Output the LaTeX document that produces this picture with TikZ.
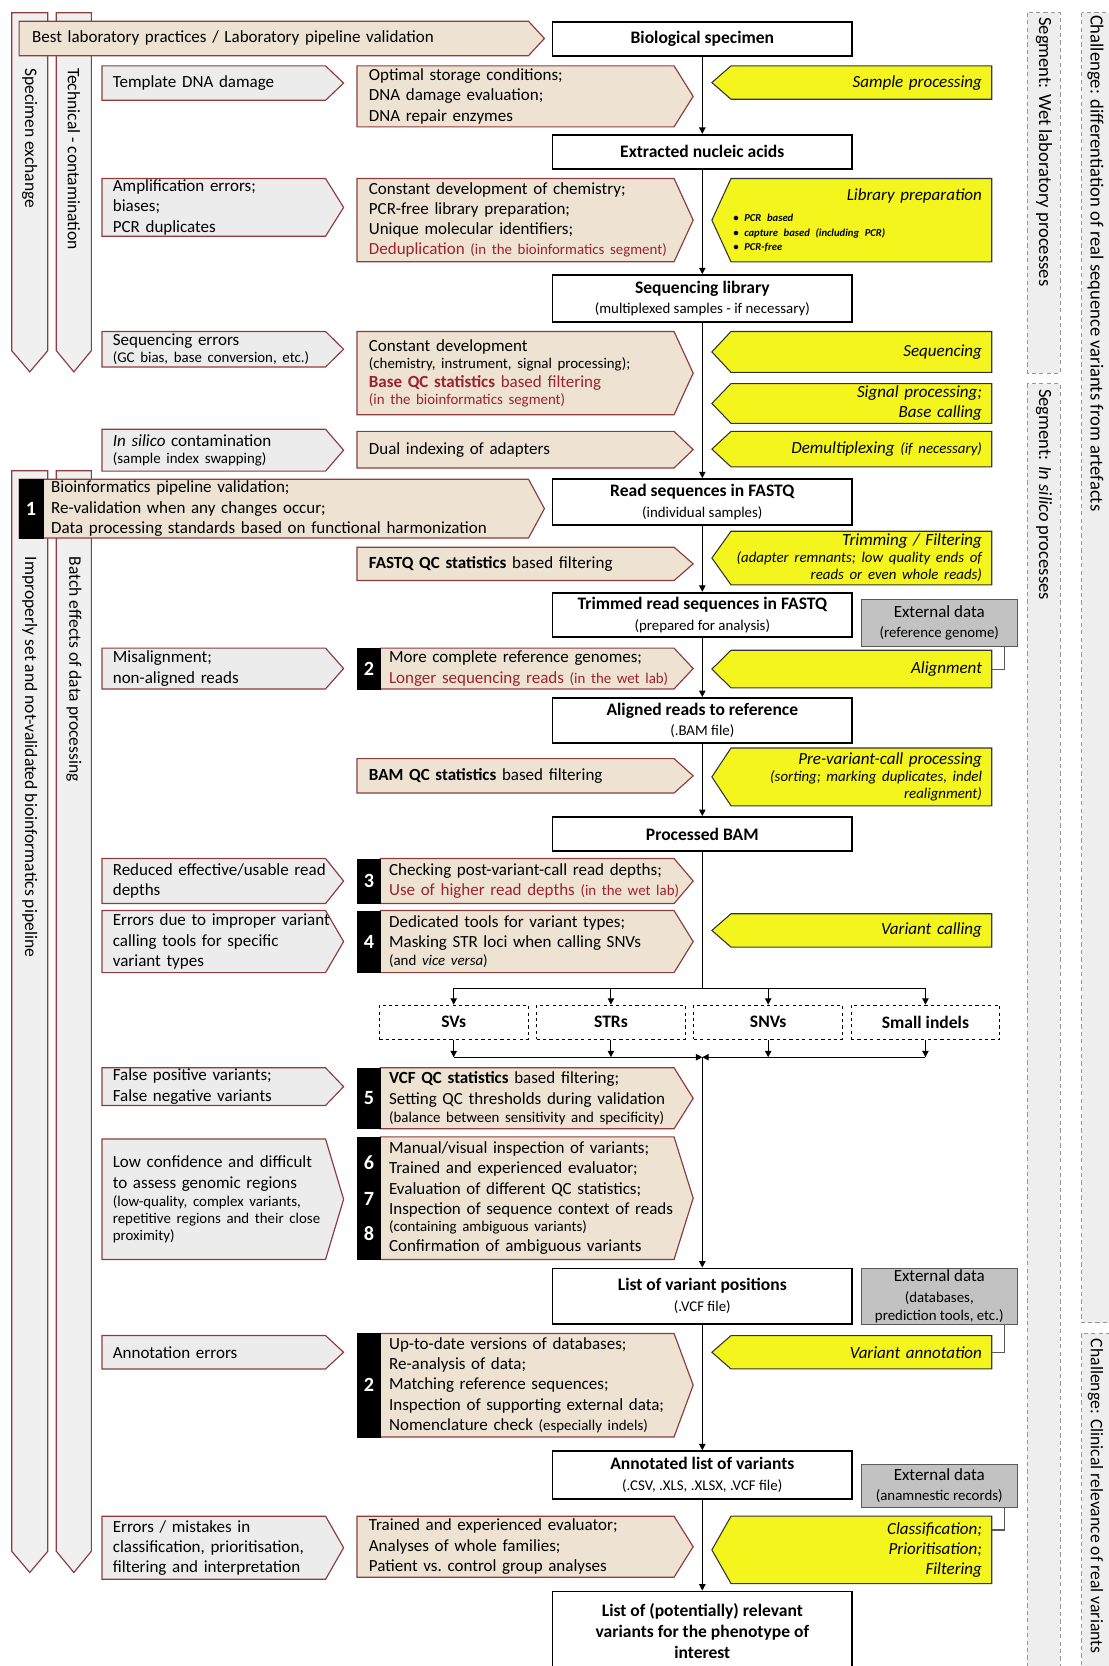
\documentclass[tikz,border=0pt]{standalone}
\usepackage{fontspec}
\setmainfont{Carlito}
\usetikzlibrary{arrows.meta,backgrounds}

\definecolor{probgray}{RGB}{236,236,236}
\definecolor{bargray}{RGB}{240,240,240}
\definecolor{segfill}{RGB}{238,238,238}
\definecolor{segline}{RGB}{150,150,150}
\definecolor{edgered}{RGB}{140,62,62}
\definecolor{soltan}{RGB}{238,226,210}
\definecolor{dred}{RGB}{155,35,45}
\definecolor{stageyel}{RGB}{245,245,30}
\definecolor{extfill}{RGB}{194,194,194}
\definecolor{extline}{RGB}{90,90,90}

\newcommand{\txtfont}{\fontsize{16}{19}\selectfont}
\newcommand{\subtxt}{\fontsize{14}{16}\selectfont\mdseries}
\newcommand{\subit}{\subtxt\itshape}
\newcommand{\ttlfont}{\fontsize{16.5}{19.5}\selectfont\bfseries}
\newcommand{\bultxt}{\fontsize{10}{13.5}\selectfont\bfseries\itshape}

\begin{document}
\begin{tikzpicture}[x=1pt,y=-1pt,>={Triangle[length=6pt,width=6pt]}]
    \tikzstyle{prob} = [rectangle,anchor=north west,inner xsep=10pt,inner ysep=0pt,text width=207pt,align=left,font=\txtfont];
    \tikzstyle{sol} = [rectangle,anchor=north west,inner xsep=11pt,inner ysep=0pt,text width=294pt,align=left,font=\txtfont];
    \tikzstyle{solnum} = [sol,inner xsep=8pt,text width=278pt];
    \tikzstyle{numstrip} = [rectangle,anchor=north west,fill=black,draw=black,text=white,minimum width=22pt,inner sep=0pt,align=center,font=\fontsize{19}{33}\selectfont\bfseries];
    \tikzstyle{stage} = [rectangle,anchor=north west,inner xsep=9pt,inner ysep=0pt,text width=245pt,align=right,font=\txtfont\itshape];
    \tikzstyle{pipe} = [rectangle,anchor=north,draw=black,line width=1.8pt,fill=white,minimum width=282pt,inner sep=0pt,align=center,font=\ttlfont];
    \tikzstyle{ext} = [rectangle,anchor=north west,draw=extline,line width=1pt,fill=extfill,minimum width=147pt,inner sep=0pt,align=center,font=\txtfont];
    \tikzstyle{vtype} = [rectangle,draw=black,dashed,line width=0.9pt,minimum width=140pt,minimum height=32pt,font=\ttlfont];
    \tikzstyle{barnode} = [rectangle,anchor=north west,inner ysep=0pt,align=left,font=\txtfont];
    \tikzstyle{sidelabel} = [rotate=-90,anchor=west,inner sep=0pt,font=\fontsize{16.5}{19}\selectfont];
    \tikzstyle{seglabel} = [sidelabel,font=\fontsize{17.5}{20}\selectfont];
    \tikzstyle{flow} = [->,black,line width=1pt];
    \tikzstyle{extlink} = [extline,line width=1pt];
    \tikzstyle{probshape} = [fill=probgray,draw=edgered,line width=1.1pt];
    \tikzstyle{solshape} = [fill=soltan,draw=edgered,line width=1.1pt];
    \tikzstyle{stageshape} = [fill=stageyel,draw=black!80,line width=1pt];
    \tikzstyle{barshape} = [fill=bargray,draw=edgered,line width=1.1pt];
    \tikzstyle{segshape} = [fill=segfill,draw=segline,line width=0.8pt,dash pattern=on 4pt off 3pt];

    \useasboundingbox (0,0) rectangle (1043,1568);

    % main pipeline
    \node[pipe,name=bio,minimum height=32pt] at (661,20) {Biological specimen};
    \node[pipe,name=nucl,minimum height=32pt] at (661,126) {Extracted nucleic acids};
    \node[pipe,name=seqlib,minimum height=44pt] at (661,258) {Sequencing library\\{\subtxt (multiplexed samples - if necessary)}};
    \node[pipe,name=fastq,minimum height=43pt] at (661,450) {Read sequences in FASTQ\\{\subtxt (individual samples)}};
    \node[pipe,name=trimmed,minimum height=42pt] at (661,557) {Trimmed read sequences in FASTQ\\{\subtxt (prepared for analysis)}};
    \node[pipe,name=aligned,minimum height=42pt] at (661,656) {Aligned reads to reference\\{\subtxt (.BAM file)}};
    \node[pipe,name=procbam,minimum height=32pt] at (661,768) {Processed BAM};
    \node[pipe,name=vcf,minimum height=52pt] at (661,1193) {List of variant positions\\{\subtxt (.VCF file)}};
    \node[pipe,name=annlist,minimum height=45pt] at (661,1365) {Annotated list of variants\\{\subtxt (.CSV, .XLS, .XLSX, .VCF file)}};
    \node[pipe,name=relevant,minimum height=74pt] at (661,1497) {List of (potentially) relevant\\variants for the phenotype of\\interest};

    \node[vtype,name=svs] at (427,962) {SVs};
    \node[vtype,name=strs] at (575,962) {STRs};
    \node[vtype,name=snvs] at (723,962) {SNVs};
    \node[vtype,name=indels] at (871,962) {Small indels};

    \node[ext,name=extref,minimum height=44pt] at (810,564) {External data\\{\subtxt (reference genome)}};
    \node[ext,name=extdb,minimum height=53pt] at (810,1193) {External data\\{\subtxt (databases,}\\[-2pt]{\subtxt prediction tools, etc.)}};
    \node[ext,name=extanam,minimum height=40pt] at (810,1378) {External data\\{\subtxt (anamnestic records)}};

    % processing steps
    \node[stage,name=sampproc,minimum height=31pt] at (670,62) {Sample processing};
    \node[stage,name=libprep,minimum height=78pt] at (670,168) {Library preparation\\[1pt]\parbox[t]{234pt}{\raggedright\bultxt\textbullet\ PCR based\\\textbullet\ capture based (including PCR)\\\textbullet\ PCR-free}};
    \node[stage,name=seqstep,minimum height=38pt] at (670,312) {Sequencing};
    \node[stage,name=sigproc,minimum height=37pt] at (670,361) {Signal processing;\\Base calling};
    \node[stage,name=demux,minimum height=33pt] at (670,406) {Demultiplexing {\subit (if necessary)}};
    \node[stage,name=trim,minimum height=50pt] at (670,500) {Trimming / Filtering\\[-3pt]{\subit (adapter remnants; low quality ends of}\\[-3pt]{\subit reads or even whole reads)}};
    \node[stage,name=alignstep,minimum height=35pt] at (670,612) {Alignment};
    \node[stage,name=prevar,minimum height=54pt] at (670,704) {Pre-variant-call processing\\[-3pt]{\subit (sorting; marking duplicates, indel}\\[-3pt]{\subit realignment)}};
    \node[stage,name=vcall,minimum height=31pt] at (670,860) {Variant calling};
    \node[stage,name=vann,minimum height=31pt] at (670,1257) {Variant annotation};
    \node[stage,name=classtep,minimum height=63pt] at (670,1427) {Classification;\\Prioritisation;\\Filtering};

    % problems
    \node[prob,name=dnadmg,minimum height=32pt] at (96,62) {Template DNA damage};
    \node[prob,name=amperr,minimum height=54pt] at (96,168) {Amplification errors;\\biases;\\PCR duplicates};
    \node[prob,name=seqerr,minimum height=33pt] at (96,312) {Sequencing errors\\[-3pt]{\subtxt (GC bias, base conversion, etc.)}};
    \node[prob,name=contam,minimum height=39pt] at (96,404) {\textit{In silico} contamination\\[-3pt]{\subtxt (sample index swapping)}};
    \node[prob,name=misal,minimum height=38pt] at (96,610) {Misalignment;\\non-aligned reads};
    \node[prob,name=depth,minimum height=42pt] at (96,808) {Reduced effective/usable read\\depths};
    \node[prob,name=vtool,minimum height=58pt] at (96,857) {Errors due to improper variant\\calling tools for specific\\variant types};
    \node[prob,name=fpfn,minimum height=35pt] at (96,1005) {False positive variants;\\False negative variants};
    \node[prob,name=lowconf,minimum height=113pt] at (96,1072) {Low confidence and difficult\\to assess genomic regions\\[-2pt]{\subtxt (low-quality, complex variants,}\\[-3pt]{\subtxt repetitive regions and their close}\\[-3pt]{\subtxt proximity)}};
    \node[prob,name=annerr,minimum height=31pt] at (96,1257) {Annotation errors};
    \node[prob,name=classerr,minimum height=59pt] at (96,1427) {Errors / mistakes in\\classification, prioritisation,\\filtering and interpretation};

    % solutions
    \node[sol,name=storage,minimum height=57pt] at (336,62) {Optimal storage conditions;\\DNA damage evaluation;\\DNA repair enzymes};
    \node[sol,name=chem,minimum height=78pt] at (336,168) {Constant development of chemistry;\\PCR-free library preparation;\\Unique molecular identifiers;\\\textcolor{dred}{Deduplication {\subtxt (in the bioinformatics segment)}}};
    \node[sol,name=seqdev,minimum height=78pt] at (336,312) {Constant development\\[-3pt]{\subtxt (chemistry, instrument, signal processing);}\\[-1pt]\textcolor{dred}{\textbf{Base QC statistics} based filtering}\\[-3pt]{\subtxt\color{dred}(in the bioinformatics segment)}};
    \node[sol,name=dualidx,minimum height=34pt] at (336,406) {Dual indexing of adapters};
    \node[sol,name=fastqqc,minimum height=31pt] at (336,515) {\textbf{FASTQ QC statistics} based filtering};
    \node[numstrip,name=numrefgen,minimum height=38pt] at (336,610) {2};
    \node[solnum,name=refgen,minimum height=38pt] at (358,610) {More complete reference genomes;\\\textcolor{dred}{Longer sequencing reads {\subtxt (in the wet lab)}}};
    \node[sol,name=bamqc,minimum height=32pt] at (336,714) {\textbf{BAM QC statistics} based filtering};
    \node[numstrip,name=numrdepth,minimum height=42pt] at (336,808) {3};
    \node[solnum,name=rdepth,minimum height=42pt] at (358,808) {Checking post-variant-call read depths;\\\textcolor{dred}{Use of higher read depths {\subtxt (in the wet lab)}}};
    \node[numstrip,name=numvtypes,minimum height=58pt] at (336,857) {4};
    \node[solnum,name=vtypes,minimum height=58pt] at (358,857) {Dedicated tools for variant types;\\Masking STR loci when calling SNVs\\[-2pt]{\subtxt (and \textit{vice versa})}};
    \node[numstrip,name=numvcfqc,minimum height=57pt] at (336,1005) {5};
    \node[solnum,name=vcfqc,minimum height=57pt] at (358,1005) {\textbf{VCF QC statistics} based filtering;\\Setting QC thresholds during validation\\[-2pt]{\subtxt (balance between sensitivity and specificity)}};
    \node[numstrip,name=numinspect,minimum height=115pt] at (336,1070) {6\\7\\8};
    \node[solnum,name=inspect,minimum height=115pt] at (358,1070) {Manual/visual inspection of variants;\\Trained and experienced evaluator;\\Evaluation of different QC statistics;\\Inspection of sequence context of reads\\[-3pt]{\subtxt (containing ambiguous variants)}\\Confirmation of ambiguous variants};
    \node[numstrip,name=numannot,minimum height=97pt] at (336,1255) {2};
    \node[solnum,name=annot,minimum height=97pt] at (358,1255) {Up-to-date versions of databases;\\Re-analysis of data;\\Matching reference sequences;\\Inspection of supporting external data;\\Nomenclature check {\subtxt (especially indels)}};
    \node[sol,name=classol,minimum height=57pt] at (336,1427) {Trained and experienced evaluator;\\Analyses of whole families;\\Patient vs.\ control group analyses};

    % horizontal bars
    \node[barnode,name=bestlab,inner xsep=12pt,text width=470pt,minimum height=32pt] at (18,20) {Best laboratory practices / Laboratory pipeline validation};
    \node[numstrip,name=numvalid,minimum height=55pt] at (18,451) {1};
    \node[barnode,name=validbar,inner xsep=8pt,text width=456pt,minimum height=55pt] at (40,451) {Bioinformatics pipeline validation;\\Re-validation when any changes occur;\\Data processing standards based on functional harmonization};

    % vertical labels
    \node[sidelabel,name=specx] at (28,64) {Specimen exchange};
    \node[sidelabel,name=techcont] at (69.5,64) {Technical - contamination};
    \node[sidelabel,name=improper] at (28,524) {Improperly set and not-validated bioinformatics pipeline};
    \node[sidelabel,name=batch] at (69.5,524) {Batch effects of data processing};
    \node[seglabel,name=segwet] at (982.5,16) {Segment: Wet laboratory processes};
    \node[seglabel,name=segsilico] at (982.5,366) {Segment: \textit{In silico} processes};
    \node[seglabel,name=chalart] at (1031,14) {Challenge: differentiation of real sequence variants from artefacts};
    \node[seglabel,name=chalclin,font=\fontsize{16.6}{19}\selectfont] at (1031,1260) {Challenge: Clinical relevance of real variants};

    % connectors
    \path (bio) edge[flow] (nucl);
    \path (nucl) edge[flow] (seqlib);
    \path (seqlib) edge[flow] (fastq);
    \path (fastq) edge[flow] (trimmed);
    \path (trimmed) edge[flow] (aligned);
    \path (aligned) edge[flow] (procbam);
    \coordinate (split) at (661,930);
    \coordinate (merge) at (661,995);
    \path (procbam) edge[flow,-] (split);
    \draw[flow,-] (svs.north |- split) -- (indels.north |- split);
    \foreach \v in {svs,strs,snvs,indels} {
      \path (\v.north |- split) edge[flow] (\v.north);
      \path (\v.south) edge[flow] (\v.south |- merge);
    }
    \path (svs.south |- merge) edge[flow] (merge);
    \path (indels.south |- merge) edge[flow] (merge);
    \path (merge) edge[flow] (vcf);
    \path (vcf) edge[flow] (annlist);
    \path (annlist) edge[flow] (relevant);

    \draw[extlink] ([xshift=-13pt]extref.south east) |- (alignstep.east);
    \draw[extlink] ([xshift=-13pt]extdb.south east) |- (vann.east);
    \draw[extlink] ([xshift=-13pt]extanam.south east) |- ([yshift=-13pt]classtep.north east);

    % outlines behind the texts
    \begin{scope}[on background layer]
      \path[segshape] (967,12) rectangle (998,351);
      \path[segshape] (967,361) rectangle (998,1580);
      \path[segshape] (1018,12) rectangle (1060,1245);
      \path[segshape] (1018,1255) rectangle (1060,1580);
      \path[barshape] (11,12) -- (45,12) -- (45,330) -- (28,350) -- (11,330) -- cycle;
      \path[barshape] (53,12) -- (86,12) -- (86,330) -- (69.5,350) -- (53,330) -- cycle;
      \path[barshape] (11,443) -- (45,443) -- (45,1460) -- (28,1480) -- (11,1460) -- cycle;
      \path[barshape] (53,443) -- (86,443) -- (86,1460) -- (69.5,1480) -- (53,1460) -- cycle;
      \path[barshape,fill=soltan] (bestlab.north west) -- ([xshift=-15pt]bestlab.north east) -- (bestlab.east) -- ([xshift=-15pt]bestlab.south east) -- (bestlab.south west) -- cycle;
      \path[barshape,fill=soltan] (numvalid.north west) -- ([xshift=-15pt]validbar.north east) -- (validbar.east) -- ([xshift=-15pt]validbar.south east) -- (numvalid.south west) -- cycle;
      \foreach \n in {dnadmg,amperr,seqerr,contam,misal,depth,vtool,fpfn,lowconf,annerr,classerr}
        \path[probshape] (\n.north west) -- ([xshift=-17pt]\n.north east) -- (\n.east) -- ([xshift=-17pt]\n.south east) -- (\n.south west) -- cycle;
      \foreach \n in {storage,chem,seqdev,dualidx,fastqqc,refgen,bamqc,rdepth,vtypes,vcfqc,inspect,annot,classol}
        \path[solshape] (\n.north west) -- ([xshift=-18pt]\n.north east) -- (\n.east) -- ([xshift=-18pt]\n.south east) -- (\n.south west) -- cycle;
      \foreach \n in {sampproc,libprep,seqstep,sigproc,demux,trim,alignstep,prevar,vcall,vann,classtep}
        \path[stageshape] (\n.west) -- ([xshift=18pt]\n.north west) -- (\n.north east) -- (\n.south east) -- ([xshift=18pt]\n.south west) -- cycle;
    \end{scope}
\end{tikzpicture}
\end{document}
